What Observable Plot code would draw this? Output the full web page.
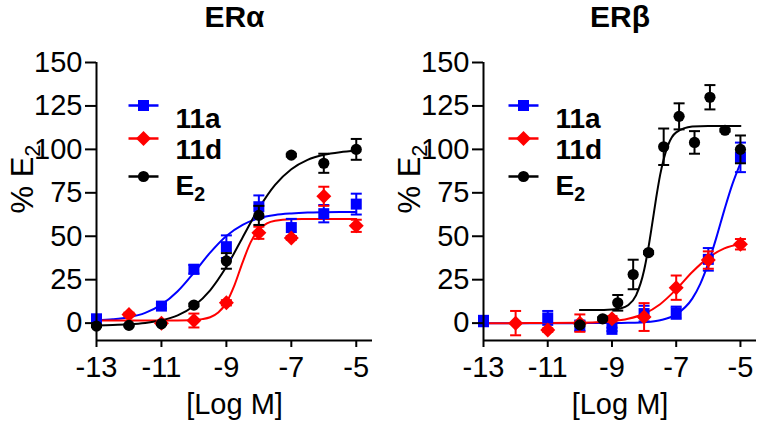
<!DOCTYPE html>
<html><head><meta charset="utf-8">
<script src="https://cdn.jsdelivr.net/npm/d3@7"></script>
<script src="https://cdn.jsdelivr.net/npm/@observablehq/plot@0.6"></script>
<style>
body{margin:0;background:#fff;}
#wrap{position:relative;width:762px;height:423px;overflow:hidden;background:#fff;}
.panel{position:absolute;top:0;}
</style>
</head><body><div id="wrap"></div>
<script>
// ---------- tick labels ----------
const xTicks = [-13, -11, -9, -7, -5];
const yTicks = [0, 25, 50, 75, 100, 125, 150];
const seriesNames = ["11a", "11d", "E2"];
const panelTitles = ["ERα", "ERβ"];

// ---------- ERα data ----------
const alpha11aX = [-13, -11, -10, -9, -8, -7, -6, -5];
const alpha11aY = [2.5, 9.8, 31, 44, 67, 55, 63, 68.5];
const alpha11aErr = [1.5, 1.2, 2.5, 6.5, 6.5, 5, 5, 6];
const alpha11dX = [-12, -11, -10, -9, -8, -7, -6, -5];
const alpha11dY = [5, 0, 1.5, 11.7, 52, 49, 73, 56];
const alpha11dErr = [1, 1, 4, 1.5, 3.5, 1, 5.5, 3.5];
const alphaE2X = [-13, -12, -11, -10, -9, -8, -7, -6, -5];
const alphaE2Y = [-1.7, -1.3, -0.4, 10.4, 35.8, 62, 96.7, 92, 100];
const alphaE2Err = [0.5, 0.5, 0.5, 0.8, 4.5, 5.5, 0.8, 5.5, 6];
// fitted curves
const alpha11aFitX = [-13, -12.5, -12, -11.5, -11, -10.5, -10, -9.5, -9, -8.5, -8, -7.5, -7, -6.5, -6, -5.5, -5];
const alpha11aFitY = [1.6, 2.2, 3.4, 5.9, 10.6, 18.3, 29, 40.6, 50.2, 56.6, 60.3, 62.2, 63.1, 63.6, 63.8, 63.9, 64];
const alpha11dFitX = [-13, -12, -11, -10.5, -10, -9.75, -9.5, -9.25, -9, -8.75, -8.5, -8.25, -8, -7.75, -7.5, -7, -6.5, -6, -5];
const alpha11dFitY = [1.5, 1.5, 1.5, 1.55, 1.8, 2.3, 3.4, 6.1, 11.8, 21.9, 35.0, 46.6, 53.8, 57.4, 58.9, 59.8, 59.9, 60, 60];
const alphaE2FitX = [-13, -12.5, -12, -11.5, -11, -10.5, -10, -9.5, -9, -8.5, -8, -7.5, -7, -6.5, -6, -5.5, -5];
const alphaE2FitY = [-1.3, -1.1, -0.7, 0.1, 1.6, 4.5, 9.9, 18.9, 32.4, 49.3, 66.1, 79.6, 88.6, 94.0, 96.9, 98.4, 99.2];

// ---------- ERβ data ----------
const beta11aX = [-13, -11, -10, -9, -8, -7, -6, -5];
const beta11aY = [1.2, 3, -1.5, -3.6, 5.5, 6, 36.7, 95.4];
const beta11aErr = [3, 4, 3, 1, 4.5, 3.5, 6.5, 8.5];
const beta11dX = [-12, -11, -10, -9, -8, -7, -6, -5];
const beta11dY = [0, -4, 0, 2.5, 3.5, 20.4, 36.3, 45.4];
const beta11dErr = [7, 1, 5, 1.5, 8, 7, 5, 3];
const betaE2X = [-10, -9.29, -8.82, -8.34, -7.86, -7.39, -6.91, -6.43, -5.95, -5.48, -5];
const betaE2Y = [-1, 2.5, 11.7, 28, 40.6, 101.5, 119, 104, 130, 111, 100];
const betaE2Err = [0.8, 0.8, 4.5, 8.5, 0.8, 10.5, 7.5, 6.5, 7, 0.8, 8];
const beta11aFitX = [-13, -12, -11, -10, -9, -8.5, -8, -7.5, -7, -6.5, -6.25, -6, -5.75, -5.5, -5.25, -5];
const beta11aFitY = [0, 0, 0, 0, 0.06, 0.19, 0.56, 1.7, 5.0, 14.1, 22.6, 34.5, 49.2, 65.2, 80.0, 92.0];
const beta11dFitX = [-13, -12, -11, -10, -9.5, -9, -8.5, -8, -7.5, -7, -6.5, -6, -5.5, -5];
const beta11dFitY = [0, 0, 0.04, 0.21, 0.48, 1.1, 2.5, 5.4, 10.9, 19.4, 29.4, 37.7, 43.0, 45.7];
const betaE2FitX = [-10, -9.5, -9, -8.75, -8.5, -8.25, -8, -7.875, -7.75, -7.625, -7.5, -7.25, -7, -6.5, -6, -5.5, -5];
const betaE2FitY = [7.5, 7.5, 7.8, 8.4, 10.3, 16.0, 30.4, 42.4, 56.8, 71.9, 85.3, 102.6, 109.8, 113.1, 113.5, 113.5, 113.5];

// ---------- helpers ----------
const pts = (xs, ys, es) => xs.map((x, i) => ({x, y: ys[i], e: es[i]}));
const fit = (xs, ys) => xs.map((x, i) => ({x, y: ys[i]}));
const capSym = {draw(ctx, size) { const r = Math.sqrt(size / Math.PI); ctx.moveTo(-r, 0); ctx.lineTo(r, 0); }};
const diamondSym = {draw(ctx, size) { const a = Math.sqrt(size / Math.PI) * 1.25; ctx.moveTo(0, -a); ctx.lineTo(a, 0); ctx.lineTo(0, a); ctx.lineTo(-a, 0); ctx.closePath(); }};
const style = [
  {color: "#0000ff", symbol: "square", r: 6.2},
  {color: "#ff0000", symbol: diamondSym, r: 6},
  {color: "#000000", symbol: "circle", r: 5.6}
];
const FONT = "'Liberation Sans', Arial, Helvetica, sans-serif";

function panel({title, series, width, marginRight, legendMarkerDx, legendTextDx}) {
  const marks = [];
  series.forEach((s, i) => marks.push(Plot.line(s.fit, {x: "x", y: "y", stroke: style[i].color, strokeWidth: 2, curve: "monotone-x"})));
  series.forEach((s, i) => {
    const c = style[i].color;
    marks.push(Plot.ruleX(s.pts, {x: "x", y1: d => d.y - d.e, y2: d => d.y + d.e, stroke: c, strokeWidth: 2}));
    marks.push(Plot.dot(s.pts, {x: "x", y: d => d.y + d.e, symbol: capSym, r: 5.5, stroke: c, fill: "none", strokeWidth: 2}));
    marks.push(Plot.dot(s.pts, {x: "x", y: d => d.y - d.e, symbol: capSym, r: 5.5, stroke: c, fill: "none", strokeWidth: 2}));
    marks.push(Plot.dot(s.pts, {x: "x", y: "y", symbol: style[i].symbol, r: style[i].r, fill: c, stroke: "none"}));
  });
  // axes
  marks.push(Plot.ruleX([-13], {stroke: "black", strokeWidth: 2}));
  marks.push(Plot.ruleY([-10], {stroke: "black", strokeWidth: 2}));
  marks.push(Plot.axisY({ticks: yTicks, tickSize: 11, tickPadding: 3, fontSize: 29, strokeWidth: 2, label: null, tickFormat: d => String(d)}));
  marks.push(Plot.axisX({ticks: xTicks, tickSize: 7, tickPadding: 9, fontSize: 29, strokeWidth: 2, label: null, tickFormat: d => String(d)}));
  // titles & labels
  marks.push(Plot.text([title], {frameAnchor: "top", text: d => d, lineAnchor: "bottom", dy: -36, fontSize: 30, fontWeight: "bold"}));
  marks.push(Plot.text(["[Log M]"], {frameAnchor: "bottom", text: d => d, lineAnchor: "bottom", dy: 73, fontSize: 29}));
  marks.push(Plot.text(["% E2"], {frameAnchor: "left", text: d => d, rotate: -90, dx: -73, dy: 12, fontSize: 31}));
  // legend
  const rowDy = [43, 76, 114];
  const textDy = [46, 77, 113];
  seriesNames.forEach((n, i) => {
    marks.push(Plot.dot([n], {frameAnchor: "top-left", dx: legendMarkerDx, dy: rowDy[i], symbol: capSym, r: 15, stroke: style[i].color, fill: "none", strokeWidth: 2.5}));
    marks.push(Plot.dot([n], {frameAnchor: "top-left", dx: legendMarkerDx, dy: rowDy[i], symbol: style[i].symbol, r: style[i].r, fill: style[i].color, stroke: "none"}));
    marks.push(Plot.text([n], {frameAnchor: "top-left", dx: legendTextDx, dy: textDy[i], text: d => d, textAnchor: "start", fontSize: 28, fontWeight: "bold"}));
  });
  const svg = Plot.plot({
    width, height: 423,
    marginLeft: 96, marginRight, marginTop: 62, marginBottom: 83,
    x: {domain: [-13, -4.5]},
    y: {domain: [-10, 150]},
    style: {fontFamily: FONT, color: "black", background: "white", overflow: "visible"},
    marks
  });
  // subscripts
  d3.select(svg).selectAll("text").each(function() {
    const t = this.textContent;
    if (/E2$/.test(t) && this.childElementCount === 0) {
      const sel = d3.select(this);
      sel.text(t.slice(0, -1));
      sel.append("tspan").attr("dy", "0.3em").attr("font-size", "0.7em").text("2");
    }
  });
  return svg;
}

const wrap = document.getElementById("wrap");
const left = panel({
  title: panelTitles[0], width: 381, marginRight: 9, legendMarkerDx: 47, legendTextDx: 79,
  series: [
    {pts: pts(alpha11aX, alpha11aY, alpha11aErr), fit: fit(alpha11aFitX, alpha11aFitY)},
    {pts: pts(alpha11dX, alpha11dY, alpha11dErr), fit: fit(alpha11dFitX, alpha11dFitY)},
    {pts: pts(alphaE2X, alphaE2Y, alphaE2Err), fit: fit(alphaE2FitX, alphaE2FitY)}
  ]
});
const right = panel({
  title: panelTitles[1], width: 375, marginRight: 6, legendMarkerDx: 40, legendTextDx: 72,
  series: [
    {pts: pts(beta11aX, beta11aY, beta11aErr), fit: fit(beta11aFitX, beta11aFitY)},
    {pts: pts(beta11dX, beta11dY, beta11dErr), fit: fit(beta11dFitX, beta11dFitY)},
    {pts: pts(betaE2X, betaE2Y, betaE2Err), fit: fit(betaE2FitX, betaE2FitY)}
  ]
});
const d1 = document.createElement("div"); d1.className = "panel"; d1.style.left = "0px"; d1.appendChild(left);
const d2 = document.createElement("div"); d2.className = "panel"; d2.style.left = "387px"; d2.appendChild(right);
wrap.appendChild(d1); wrap.appendChild(d2);
</script>
</body></html>
